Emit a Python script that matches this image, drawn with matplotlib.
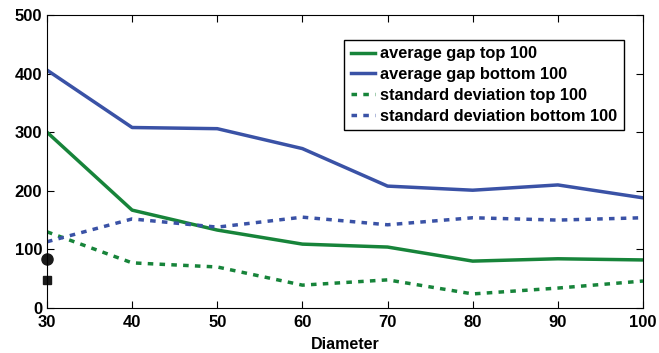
import numpy as np
import matplotlib.pyplot as plt

plt.rcParams['font.family'] = ['Liberation Sans', 'DejaVu Sans']
plt.rcParams['font.weight'] = 'bold'

diameter = [30, 40, 50, 60, 70, 80, 90, 100]
avg_top = [300, 167, 133, 109, 104, 80, 84, 82]
avg_bottom = [406, 308, 306, 272, 208, 201, 210, 188]
std_top = [130, 77, 70, 39, 48, 24, 34, 46]
std_bottom = [113, 152, 138, 155, 142, 154, 150, 154]
extra_circle = 84
extra_square = 48

green = '#17843a'
blue = '#3a52a6'
dots = (0, (1.6, 1.8))

fig = plt.figure(figsize=(6.59, 3.53), dpi=100)
ax = fig.add_axes([0.0713, 0.1275, 0.9044, 0.83])

ax.plot(diameter, avg_top, '-', color=green, lw=2.5, label='average gap top 100')
ax.plot(diameter, avg_bottom, '-', color=blue, lw=2.5, label='average gap bottom 100')
ax.plot(diameter, std_top, linestyle=dots, color=green, lw=2.5, label='standard deviation top 100')
ax.plot(diameter, std_bottom, linestyle=dots, color=blue, lw=2.5, label='standard deviation bottom 100')
ax.plot([30], [extra_circle], 'o', color='#1a1a1a', ms=8, clip_on=False)
ax.plot([30], [extra_square], 's', color='#1a1a1a', ms=6, clip_on=False)

ax.set_xlim(30, 100)
ax.set_ylim(0, 500)
ax.set_xticks(diameter)
ax.set_yticks(range(0, 501, 100))
ax.tick_params(direction='in', top=True, right=True, labelsize=12, length=5)
ax.tick_params(axis='x', pad=5)
ax.set_xlabel('Diameter', fontsize=11.5, fontweight='bold', labelpad=5)

leg = ax.legend(loc='upper right', bbox_to_anchor=(0.968, 0.915), fontsize=11.8,
                frameon=True, fancybox=False, edgecolor='black', handlelength=1.5,
                handletextpad=0.3, borderpad=0.4, labelspacing=0.35, framealpha=1,
                borderaxespad=0)
leg.get_frame().set_linewidth(1.0)

fig.savefig('out.png', dpi=100)
